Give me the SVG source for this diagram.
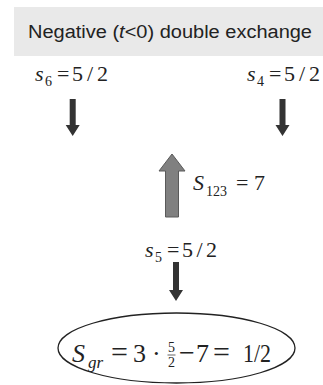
<svg xmlns="http://www.w3.org/2000/svg" width="323" height="385" viewBox="0 0 323 385">
<style>
.hdr{font-family:"Liberation Sans",Arial,sans-serif;font-size:18px;fill:#222}
.m{font-family:"Liberation Serif","Times New Roman",serif;font-size:22px;fill:#222}
.it{font-style:italic}
.sub{font-size:14px}
.big{font-size:26px}
.op{font-size:30px}
.sm{font-size:14px}
.dn{fill:#333}
.up{fill:#808080;stroke:#5a5a5a;stroke-width:1}
</style>
<rect width="323" height="385" fill="#fff"/>
<g id="header">
<rect x="14" y="7" width="309" height="49" fill="#e9e9e9"/>
<text class="hdr" x="28" y="38" textLength="284" lengthAdjust="spacingAndGlyphs">Negative (<tspan font-style="italic">t</tspan>&lt;0) double exchange</text>
</g>
<g id="s6">
<text class="m"><tspan class="it" x="35" y="81">s</tspan><tspan class="sub" x="45" y="86">6</tspan><tspan x="57" y="81">=</tspan></text>
<text class="m" x="72" y="81" textLength="36" lengthAdjust="spacing">5/2</text>
</g>
<g id="s4">
<text class="m"><tspan class="it" x="247" y="81">s</tspan><tspan class="sub" x="257" y="86">4</tspan><tspan x="269" y="81">=</tspan></text>
<text class="m" x="284" y="81" textLength="36" lengthAdjust="spacing">5/2</text>
</g>
<g id="S123">
<text class="m"><tspan class="it" x="193" y="190">S</tspan><tspan class="sub" x="206" y="196">123</tspan><tspan x="236" y="190">=</tspan><tspan x="254" y="190">7</tspan></text>
</g>
<g id="s5">
<text class="m"><tspan class="it" x="145" y="257">s</tspan><tspan class="sub" x="155" y="262">5</tspan><tspan x="167" y="257">=</tspan></text>
<text class="m" x="182" y="257" textLength="35" lengthAdjust="spacing">5/2</text>
</g>
<g id="Sgr">
<ellipse cx="176.5" cy="348" rx="118.5" ry="35" fill="none" stroke="#222" stroke-width="1.3"/>
<text class="m big"><tspan class="it" x="72" y="362">S</tspan><tspan class="it" x="88" y="368" font-size="17">gr</tspan><tspan class="op" x="111" y="362">=</tspan><tspan x="133" y="362">3</tspan><tspan x="152" y="362">·</tspan><tspan x="179" y="362" font-size="28">−</tspan><tspan x="196" y="362">7</tspan><tspan class="op" x="213" y="362">=</tspan></text>
<text class="m big" x="243" y="362" textLength="28" lengthAdjust="spacingAndGlyphs">1/2</text>
<text class="m sm"><tspan x="168" y="352">5</tspan><tspan x="168" y="367">2</tspan></text>
<line x1="167.5" y1="355" x2="175.5" y2="355" stroke="#222" stroke-width="0.7"/>
</g>
<g id="connectors">
<path class="dn" d="M69.7,99 H75.7 V125 H79.7 L72.7,136 L65.7,125 H69.7 Z"/>
<path class="dn" d="M279.5,99 H285.5 V125 H289.5 L282.5,136 L275.5,125 H279.5 Z"/>
<path class="dn" d="M173,262 H179 V290 H183 L176,301 L169,290 H173 Z"/>
<path class="up" d="M165.5,217 V171 H159 L172,154 L185,171 H178.5 V217 Z"/>
</g>
</svg>
